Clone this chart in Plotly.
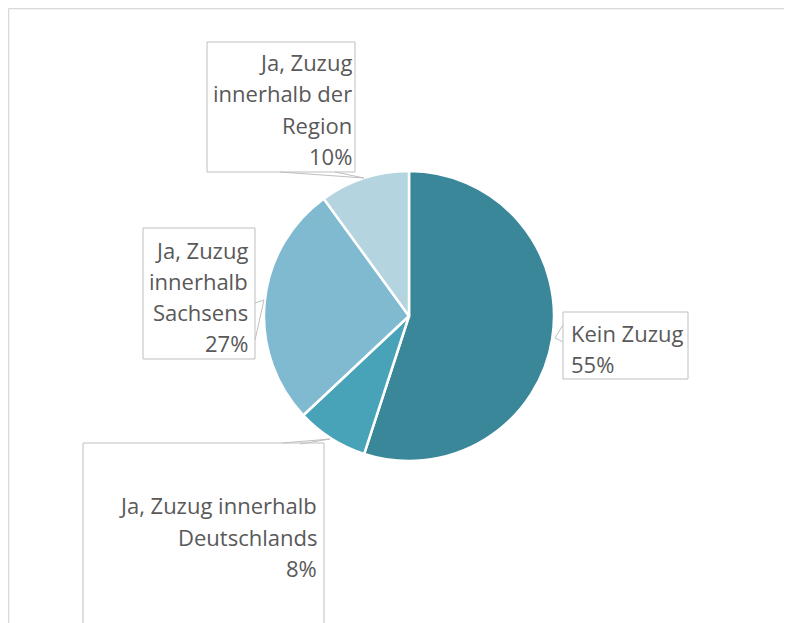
import plotly.graph_objects as go

OFF = 8  # page body margin offset
W, H = 792 - OFF, 623 - OFF

# ---- data ----
categories = ["Kein Zuzug", "Ja, Zuzug innerhalb Deutschlands",
              "Ja, Zuzug innerhalb Sachsens", "Ja, Zuzug innerhalb der Region"]
values = [55, 8, 27, 10]
colors = ["#3a8799", "#49a3b8", "#7fbad0", "#b4d4df"]

# label text lines (as broken in the reference callouts)
label_lines = [
    ["Kein Zuzug"],
    ["Ja, Zuzug innerhalb", "Deutschlands"],
    ["Ja, Zuzug", "innerhalb", "Sachsens"],
    ["Ja, Zuzug", "innerhalb der", "Region"],
]

def px(x):
    return (x - OFF) / W

def py(y):
    return 1 - (y - OFF) / H

# pie placement (pixels)
cx, cy, r = 409, 316, 145

fig = go.Figure(go.Pie(
    labels=categories, values=values, sort=False, direction="clockwise",
    rotation=0, textinfo="none", hoverinfo="label+percent",
    marker=dict(colors=colors, line=dict(color="white", width=2.5)),
    domain=dict(x=[px(cx - r), px(cx + r)], y=[py(cy + r), py(cy - r)]),
    showlegend=False,
))

# callout layout: box, text anchor, alignment, line positions, pointer
callouts = [
    dict(box=(563, 312, 688, 379), x=569, anchor="left", ys=[333, 364],
         ptr=[(563, 325), (555, 338), (563, 342)]),
    dict(box=(83, 443, 324, 640), x=319, anchor="right", ys=[505, 537, 568],
         ptr=[(283, 443), (330, 439), (300, 444)]),
    dict(box=(143, 228, 255, 359), x=250, anchor="right", ys=[250, 281, 312, 343],
         ptr=[(255, 303), (264, 300), (255, 340)]),
    dict(box=(207, 42, 355, 172), x=354, anchor="right", ys=[62, 93, 125, 156],
         ptr=[(280, 172), (364, 178), (335, 172)]),
]

total = sum(values)
shapes = []
annotations = []
text_color = "#595959"
font = dict(family="'Open Sans', 'Liberation Sans', sans-serif", size=22, color=text_color)

for i, c in enumerate(callouts):
    x0, y0, x1, y1 = c["box"]
    shapes.append(dict(type="rect", xref="paper", yref="paper",
                       x0=px(x0), x1=px(x1), y0=py(y1), y1=py(y0),
                       line=dict(color="#bfbfbf", width=1), fillcolor="rgba(255,255,255,0)"))
    pts = c["ptr"]
    path = "M " + " L ".join(f"{px(a)},{py(b)}" for a, b in pts)
    shapes.append(dict(type="path", xref="paper", yref="paper", path=path,
                       line=dict(color="#bfbfbf", width=1)))
    lines = label_lines[i] + [f"{round(values[i] / total * 100)}%"]
    for line, yy in zip(lines, c["ys"]):
        annotations.append(dict(x=px(c["x"]), y=py(yy), xref="paper", yref="paper",
                                text=line, showarrow=False, xanchor=c["anchor"],
                                yanchor="middle", font=font))

# outer chart-area border (top and left edges visible)
shapes.append(dict(type="line", xref="paper", yref="paper",
                   x0=px(8.5), x1=px(800), y0=py(8.5), y1=py(8.5),
                   line=dict(color="#d9d9d9", width=1.5)))
shapes.append(dict(type="line", xref="paper", yref="paper",
                   x0=px(8.5), x1=px(8.5), y0=py(8.5), y1=py(640),
                   line=dict(color="#d9d9d9", width=1.5)))

fig.update_layout(
    width=W, height=H, margin=dict(l=0, r=0, t=0, b=0),
    paper_bgcolor="white", plot_bgcolor="white",
    shapes=shapes, annotations=annotations,
)

fig.write_html("out.html")
